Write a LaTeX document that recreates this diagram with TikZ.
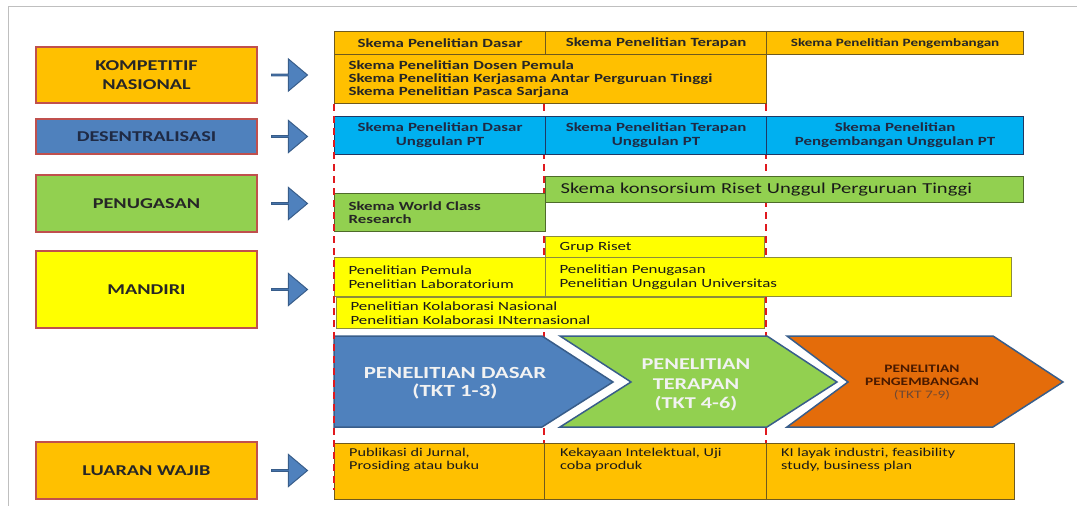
\documentclass[tikz,border=0pt]{standalone}
\usepackage{fontspec}
\setmainfont{Carlito}[FakeStretch=1.35]
\usepackage{tikz}
\usetikzlibrary{positioning,shapes.arrows}
\definecolor{schemaorange}{HTML}{FFC000}
\definecolor{schemablue}{HTML}{4F81BD}
\definecolor{schemacyan}{HTML}{00B0F0}
\definecolor{schemagreen}{HTML}{92D050}
\definecolor{schemayellow}{HTML}{FFFF00}
\definecolor{chevorange}{HTML}{E46C0A}
\definecolor{chevline}{HTML}{385D8A}
\definecolor{catline}{HTML}{C0504D}
\definecolor{orangeline}{HTML}{6F5A1E}
\definecolor{cyanline}{HTML}{1F3864}
\definecolor{greenline}{HTML}{4E6B2A}
\definecolor{yellowline}{HTML}{8C8C3C}
\definecolor{redcutline}{HTML}{E0191E}
\definecolor{inkdark}{HTML}{262626}
\definecolor{inknavy}{HTML}{1F2A44}
\definecolor{inkmaroon}{HTML}{4A1A00}

\begin{document}
\begin{tikzpicture}[x=1pt,y=-1pt,
  catbox/.style={draw=catline, line width=2pt, anchor=north west, minimum width=221pt,
    inner sep=0pt, align=center, text=inkdark, font=\fontsize{15}{19}\selectfont\bfseries},
  navarrow/.style={single arrow, draw=chevline, fill=schemablue, line width=1pt, inner sep=0pt,
    minimum height=36pt, minimum width=32pt, single arrow head extend=9pt, single arrow tip angle=80},
  cell/.style={anchor=north west, line width=1.2pt, inner ysep=0pt, text=inkdark},
  ocell/.style={cell, draw=orangeline, fill=schemaorange},
  ccell/.style={cell, draw=cyanline, fill=schemacyan, text=inknavy},
  gcell/.style={cell, draw=greenline, fill=schemagreen},
  ycell/.style={cell, draw=yellowline, fill=schemayellow},
  hdr/.style={align=center, inner xsep=2pt, font=\fontsize{12.5}{14}\selectfont\bfseries},
  body/.style={align=left, inner xsep=14pt, font=\fontsize{12.5}{12.7}\selectfont\bfseries},
  plain/.style={align=left, inner xsep=14pt, text=black!90, font=\fontsize{12.5}{13.8}\selectfont},
  outtext/.style={anchor=north west, inner sep=0pt, align=left, text=black!90, font=\fontsize{12}{12.5}\selectfont},
  chev/.style={draw=chevline, line width=1.5pt, line join=miter},
  chevtext/.style={align=center, text=white!95!black, font=\fontsize{17}{18.5}\selectfont\bfseries},
  redcut/.style={draw=redcutline, line width=2pt, dash pattern=on 7pt off 5pt}]

  \useasboundingbox (0,0) rectangle (1077,506);
  \draw[black!25, line width=1pt] (1077,6) -- (8,6) -- (8,506);

  % column borders (behind)
  \draw[redcut] (544,104) -- (544,443);
  \draw[redcut] (766,104) -- (766,443);

  % categories
  \node[catbox, fill=schemaorange, minimum height=56pt] (komp) at (35,46) {KOMPETITIF\\NASIONAL};
  \node[catbox, fill=schemablue, minimum height=35pt, text=inknavy] (desen) at (35,118) {DESENTRALISASI};
  \node[catbox, fill=schemagreen, minimum height=57pt] (penug) at (35,174) {PENUGASAN};
  \node[catbox, fill=schemayellow, minimum height=77pt] (mandiri) at (35,250) {MANDIRI};
  \node[catbox, fill=schemaorange, minimum height=57pt] (luaran) at (35,441) {LUARAN WAJIB};

  \node[navarrow, right=13pt of komp] (kompArrow) {};
  \node[navarrow, right=13pt of desen] (desenArrow) {};
  \node[navarrow, right=13pt of penug] (penugArrow) {};
  \node[navarrow, right=13pt of mandiri] (mandiriArrow) {};
  \node[navarrow, right=13pt of luaran] (luaranArrow) {};

  % kompetitif nasional
  \node[ocell, hdr, minimum width=211pt, minimum height=23pt, text width=207pt] (hdrDasar) at (334,31) {Skema Penelitian Dasar};
  \node[ocell, hdr, minimum width=221pt, minimum height=23pt, text width=217pt] (hdrTerapan) at (545,31) {Skema Penelitian Terapan};
  \node[ocell, hdr, minimum width=257pt, minimum height=23pt, text width=253pt, font=\fontsize{11.2}{14}\selectfont\bfseries] (hdrKembang) at (766,31) {Skema Penelitian Pengembangan};
  \node[ocell, body, minimum width=432pt, minimum height=49pt, text width=404pt] (kompList) at (334,54)
    {Skema Penelitian Dosen Pemula\\Skema Penelitian Kerjasama Antar Perguruan Tinggi\\Skema Penelitian Pasca Sarjana};

  % desentralisasi
  \node[ccell, hdr, minimum width=211pt, minimum height=38pt, text width=207pt] (desDasar) at (334,116) {Skema Penelitian Dasar\\Unggulan PT};
  \node[ccell, hdr, minimum width=221pt, minimum height=38pt, text width=217pt] (desTerapan) at (545,116) {Skema Penelitian Terapan\\Unggulan PT};
  \node[ccell, hdr, minimum width=257pt, minimum height=38pt, text width=253pt] (desKembang) at (766,116) {Skema Penelitian\\Pengembangan Unggulan PT};

  % penugasan
  \node[gcell, plain, minimum width=478pt, minimum height=26pt, text width=448pt, font=\fontsize{15.2}{16}\selectfont] (konsorsium) at (545,176)
    {Skema konsorsium Riset Unggul Perguruan Tinggi};
  \node[gcell, body, minimum width=211pt, minimum height=38pt, text width=183pt] (worldClass) at (334,193) {Skema World Class\\Research};

  % mandiri
  \node[ycell, plain, minimum width=219pt, minimum height=21pt, text width=191pt] (grupRiset) at (545,236) {Grup Riset};
  \node[ycell, plain, minimum width=466pt, minimum height=39pt, text width=438pt] (unggulan) at (545,257)
    {Penelitian Penugasan\\Penelitian Unggulan Universitas};
  \node[ycell, plain, minimum width=211pt, minimum height=39pt, text width=183pt] (pemula) at (334,257)
    {Penelitian Pemula\\Penelitian Laboratorium};
  \node[ycell, plain, minimum width=428pt, minimum height=31pt, text width=400pt] (kolaborasi) at (336,297)
    {Penelitian Kolaborasi Nasional\\Penelitian Kolaborasi INternasional};

  % TKT chevrons
  \draw[chev, fill=schemablue] (334,336) -- (542,336) -- (613,382) -- (542,427) -- (334,427) -- cycle;
  \draw[chev, fill=schemagreen] (560,336) -- (767,336) -- (837,382) -- (767,427) -- (560,427) -- (631,382) -- cycle;
  \draw[chev, fill=chevorange] (787,336) -- (993,336) -- (1063,382) -- (993,427) -- (787,427) -- (848,382) -- cycle;
  \node[chevtext] (dasarLbl) at (455,383) {PENELITIAN DASAR\\(TKT 1-3)};
  \node[chevtext, font=\fontsize{16.5}{19.5}\selectfont\bfseries] (terapanLbl) at (696,385) {PENELITIAN\\TERAPAN\\(TKT 4-6)};
  \node[align=center, text=inkmaroon, font=\fontsize{11.4}{13}\selectfont\bfseries] (kembangLbl) at (922,383)
    {PENELITIAN\\PENGEMBANGAN\\{\mdseries\color{inkmaroon!80!white}(TKT 7-9)}};

  % luaran wajib
  \node[ocell, minimum width=210pt, minimum height=56pt] (outDasar) at (334,443) {};
  \node[ocell, minimum width=222pt, minimum height=56pt] (outTerapan) at (544,443) {};
  \node[ocell, minimum width=248pt, minimum height=56pt] (outKembang) at (766,443) {};
  \node[outtext] (outDasarTxt) at ([shift={(15pt,-5pt)}]outDasar.north west) {Publikasi di Jurnal,\\Prosiding atau buku};
  \node[outtext] (outTerapanTxt) at ([shift={(16pt,-5pt)}]outTerapan.north west) {Kekayaan Intelektual, Uji\\coba produk};
  \node[outtext] (outKembangTxt) at ([shift={(15pt,-5pt)}]outKembang.north west) {KI layak industri, feasibility\\study, business plan};

  % column border (front)
  \draw[redcut] (334,104) -- (334,490);
\end{tikzpicture}
\end{document}
